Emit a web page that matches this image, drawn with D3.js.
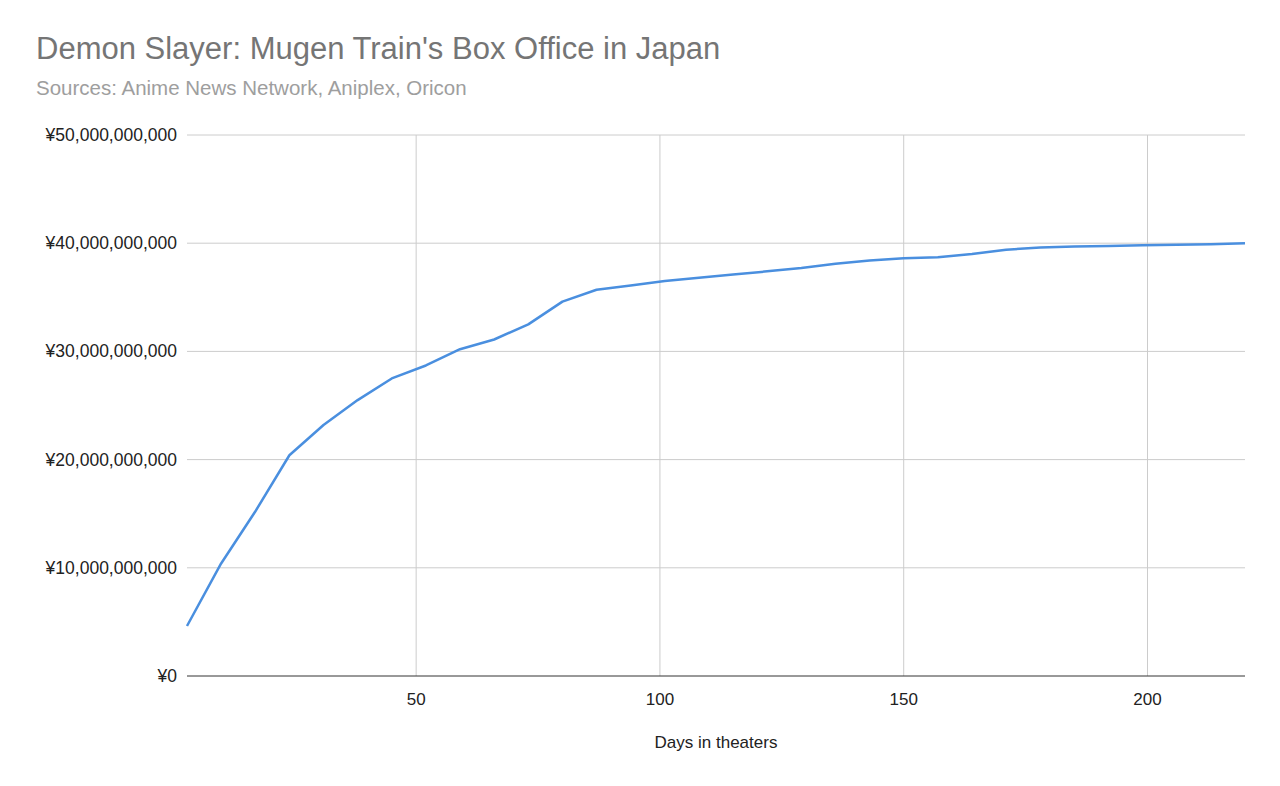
<!DOCTYPE html>
<html><head><meta charset="utf-8">
<script src="https://cdn.jsdelivr.net/npm/d3@7"></script>
<style>body{margin:0;background:#fff;font-family:"Liberation Sans",Arial,sans-serif}</style>
</head><body>
<svg id="chart" width="1280" height="786"></svg>
<script>
// Days in theaters and cumulative gross (yen)
let days = [3, 10, 17, 24, 31, 38, 45, 52, 59, 66, 73, 80, 87, 94, 101, 108, 115, 122, 129, 136, 143, 150, 157, 164, 171, 178, 185, 192, 199, 206, 213, 220];
let gross = [4.62, 10.4, 15.2, 20.4, 23.2, 25.5, 27.5, 28.7, 30.2, 31.1, 32.5, 34.6, 35.7, 36.1, 36.5, 36.8, 37.1, 37.4, 37.7, 38.1, 38.4, 38.6, 38.7, 39.0, 39.4, 39.6, 39.7, 39.75, 39.8, 39.85, 39.9, 40.0].map(d => d * 1e9);
let xTicks = [50, 100, 150, 200];
let yTicks = [0, 1e10, 2e10, 3e10, 4e10, 5e10];

let svg = d3.select('#chart'),
    plotLeft = 187, plotRight = 1245, plotTop = 135, plotBottom = 676;

let x = d3.scaleLinear().domain([3, 220]).range([plotLeft, plotRight]),
    y = d3.scaleLinear().domain([0, 5e10]).range([plotBottom, plotTop]);

svg.append('text').attr('x', 36).attr('y', 59).attr('font-size', 31).attr('fill', '#757575')
    .text("Demon Slayer: Mugen Train's Box Office in Japan");
svg.append('text').attr('x', 36).attr('y', 95).attr('font-size', 20.5).attr('fill', '#9e9e9e')
    .text('Sources: Anime News Network, Aniplex, Oricon');

// Gridlines
svg.append('g').selectAll('line').data(xTicks).enter().append('line')
    .attr('x1', d => x(d)).attr('x2', d => x(d))
    .attr('y1', plotTop).attr('y2', plotBottom)
    .attr('stroke', '#ccc');
svg.append('g').selectAll('line').data(yTicks).enter().append('line')
    .attr('x1', plotLeft).attr('x2', plotRight)
    .attr('y1', d => y(d)).attr('y2', d => y(d))
    .attr('stroke', d => d === 0 ? '#333' : '#ccc').attr('stroke-width', 1);

// Y labels
svg.append('g').selectAll('text').data(yTicks).enter().append('text')
    .attr('x', plotLeft - 10).attr('y', d => y(d) + 6).attr('text-anchor', 'end')
    .attr('font-size', 17.5).attr('fill', '#222')
    .text(d => '¥' + d3.format(',')(d));

// X labels
svg.append('g').selectAll('text').data(xTicks).enter().append('text')
    .attr('x', d => x(d)).attr('y', plotBottom + 29).attr('text-anchor', 'middle')
    .attr('font-size', 17).attr('fill', '#222').text(d => d);

svg.append('text').attr('x', (plotLeft + plotRight) / 2).attr('y', 748).attr('text-anchor', 'middle')
    .attr('font-size', 17).attr('fill', '#222').text('Days in theaters');

// Line
svg.append('path').datum(days.map((d, i) => [d, gross[i]]))
    .attr('fill', 'none').attr('stroke', '#4a8fdf').attr('stroke-width', 2.5)
    .attr('stroke-linejoin', 'round')
    .attr('d', d3.line().x(d => x(d[0])).y(d => y(d[1])));
</script>
</body></html>
